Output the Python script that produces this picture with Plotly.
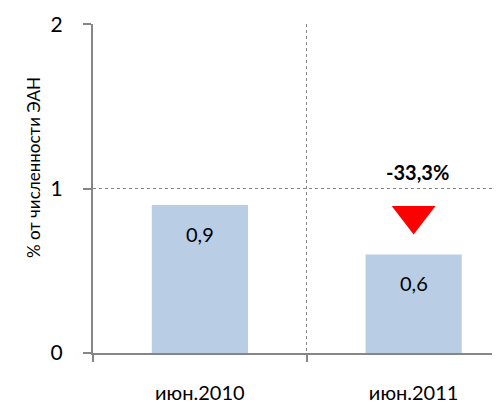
import plotly.graph_objects as go

categories = ["июн.2010", "июн.2011"]
values = [0.9, 0.6]
y_ticks = [0, 1, 2]
y_title = "% от численности ЭАН"

bar_color = "#B9CDE5"
axis_color = "#868686"
font_family = "Lato, 'Open Sans', sans-serif"

change = (values[1] - values[0]) / values[0] * 100
change_text = f"{change:.1f}%".replace(".", ",")

fig = go.Figure()
fig.add_trace(go.Bar(
    x=categories, y=values,
    marker=dict(color=bar_color, line=dict(width=0)),
    width=0.45,
    hoverinfo="skip",
))

# value labels inside bars near the top
for c, v in zip(categories, values):
    fig.add_annotation(
        x=c, y=v, xref="x", yref="y",
        text=f"{v:.1f}".replace(".", ","),
        showarrow=False, yanchor="middle", yshift=-29,
        font=dict(family=font_family, size=20, color="#000000"),
    )

# red down triangle and change label above second bar
fig.add_trace(go.Scatter(
    x=[categories[1]], y=[values[1] + 0.236],
    mode="markers",
    marker=dict(symbol="triangle-down", size=38, color="#FF0000", line=dict(width=0)),
    hoverinfo="skip",
))
fig.add_annotation(
    x=categories[1], y=values[1], xref="x", yref="y",
    text=f"<b>{change_text}</b>",
    showarrow=False, yanchor="middle", yshift=82, xshift=4,
    font=dict(family=font_family, size=20, color="#000000"),
)

# y-axis title
fig.add_annotation(
    x=0, y=0.562, xref="paper", yref="paper",
    text=y_title, textangle=-90, showarrow=False,
    xshift=-60, xanchor="center", yanchor="middle",
    font=dict(family=font_family, size=17, color="#000000"),
)

fig.update_layout(
    width=492, height=395,
    margin=dict(l=85, r=0, t=16, b=50),
    paper_bgcolor="white", plot_bgcolor="white",
    showlegend=False,
    separators=", ",
    font=dict(family=font_family, color="#000000"),
    bargap=0.55,
)
fig.update_xaxes(
    type="category",
    range=[-0.5, 1.404],
    showline=True, linecolor=axis_color, linewidth=2,
    ticks="outside", tickson="boundaries", ticklen=7, tickcolor=axis_color, tickwidth=2,
    showgrid=True, gridcolor=axis_color, griddash="dot", gridwidth=1.3,
    tickfont=dict(family=font_family, size=20, color="#000000"),
    ticklabelstandoff=21,
    zeroline=False,
)
fig.update_yaxes(
    range=[0, 2.002],
    tickvals=y_ticks,
    showline=True, linecolor=axis_color, linewidth=2,
    ticks="outside", ticklen=8, tickcolor=axis_color, tickwidth=2,
    showgrid=True, gridcolor=axis_color, griddash="dot", gridwidth=1.3,
    tickfont=dict(family=font_family, size=21, color="#000000"),
    ticklabelstandoff=16,
    zeroline=False,
)

fig.write_html("out.html")
